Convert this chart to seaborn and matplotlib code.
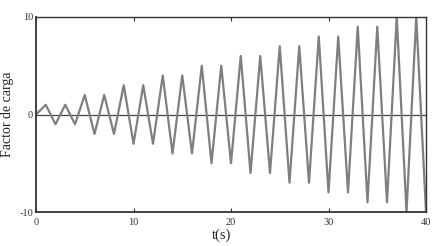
import numpy as np
import pandas as pd
import matplotlib
matplotlib.use("Agg")
import matplotlib.pyplot as plt
import seaborn as sns

t = [0, 1, 2, 3, 4, 5, 6, 7, 8, 9, 10, 11, 12, 13, 14, 15, 16, 17, 18, 19, 20,
     21, 22, 23, 24, 25, 26, 27, 28, 29, 30, 31, 32, 33, 34, 35, 36, 37, 38, 39, 40]
factor = [0, 1, -1, 1, -1, 2, -2, 2, -2, 3, -3, 3, -3, 4, -4, 4, -4, 5, -5, 5, -5,
          6, -6, 6, -6, 7, -7, 7, -7, 8, -8, 8, -8, 9, -9, 9, -9, 10, -10, 10, -10]
xticks = [0, 10, 20, 30, 40]
yticks = [-10, 0, 10]

df = pd.DataFrame({"t": t, "factor": factor})

sns.set_style("white")
plt.rcParams['font.family'] = ['Liberation Serif', 'DejaVu Serif']

fig = plt.figure(figsize=(4.38, 2.46), dpi=100)
ax = fig.add_axes([36/438, 1 - 212/246, (426-36)/438, (212-17)/246])

ax.axhline(0, color="#444444", lw=0.9, zorder=1)
sns.lineplot(data=df, x="t", y="factor", ax=ax, color="#7f7f7f", lw=1.6, zorder=2)

ax.set_xlim(0, 40)
ax.set_ylim(-10, 10)
ax.set_xticks(xticks)
ax.set_yticks(yticks)
ax.set_xticklabels([str(v) for v in xticks])
ax.set_yticklabels([str(v) for v in yticks])
ax.tick_params(axis="both", direction="in", labelsize=7.5, length=3, width=0.8,
               colors="#333333", pad=4)
ax.tick_params(axis="x", top=True, bottom=True)
ax.tick_params(axis="y", left=False, right=False, pad=2)
for s in ax.spines.values():
    s.set_color("#333333")
    s.set_linewidth(1.0)
ax.spines["left"].set_linewidth(1.3)
ax.spines["bottom"].set_linewidth(1.3)

ax.set_xlabel("t(s)", fontsize=10.5, labelpad=0, color="#222222")
ax.set_ylabel("Factor de carga", fontsize=10, labelpad=4, color="#222222")
ax.xaxis.set_label_coords(0.475, -0.085)

fig.savefig("out.png", dpi=100)
